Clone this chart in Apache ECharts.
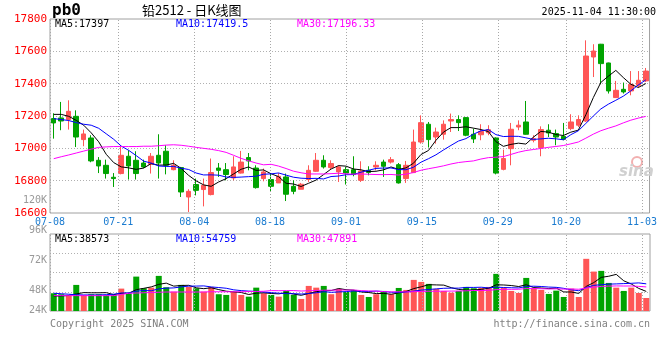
<!DOCTYPE html>
<html><head><meta charset="utf-8">
<script src="https://cdn.jsdelivr.net/npm/echarts@6/dist/echarts.min.js"></script>
<style>html,body{margin:0;padding:0;background:#fff}#c{width:660px;height:360px}</style>
</head><body><div id="c"></div>
<script>
const dates = ['07-08','07-09','07-10','07-11','07-14','07-15','07-16','07-17','07-18','07-21','07-22','07-23','07-24','07-25','07-28','07-29','07-30','07-31','08-01','08-04','08-05','08-06','08-07','08-08','08-11','08-12','08-13','08-14','08-15','08-18','08-19','08-20','08-21','08-22','08-25','08-26','08-27','08-28','08-29','09-01','09-02','09-03','09-04','09-05','09-08','09-09','09-10','09-11','09-12','09-15','09-16','09-17','09-18','09-19','09-22','09-23','09-24','09-25','09-26','09-29','09-30','10-09','10-10','10-13','10-14','10-15','10-16','10-17','10-20','10-21','10-22','10-23','10-24','10-27','10-28','10-29','10-30','10-31','11-03','11-04'];
const opens = [17184,17188,17178,17198,17054,17064,16926,16895,16821,16844,16951,16926,16909,16901,16957,16982,16868,16881,16699,16776,16745,16714,16878,16868,16817,16847,16943,16878,16813,16807,16786,16823,16765,16747,16807,16858,16926,16881,16854,16868,16868,16802,16864,16885,16915,16915,16899,16813,16850,17039,17149,17070,17087,17169,17178,17190,17087,17084,17096,17064,16870,16998,17132,17163,17050,17005,17112,17091,17074,17122,17143,17169,17565,17644,17528,17314,17365,17355,17390,17417];
const closes = [17157,17169,17229,17070,17089,16922,16891,16844,16813,16957,16891,16844,16885,16951,16909,16895,16895,16730,16734,16740,16771,16850,16864,16838,16885,16915,16922,16757,16854,16765,16827,16716,16734,16778,16864,16926,16885,16906,16885,16847,16838,16860,16851,16895,16889,16930,16786,16895,17039,17159,17054,17101,17149,17178,17159,17081,17058,17105,17115,16847,16937,17118,17143,17087,17060,17116,17095,17070,17056,17163,17178,17571,17602,17524,17355,17359,17349,17396,17421,17478];
const lows = [17060,17112,17116,17008,17013,16914,16847,16813,16761,16839,16807,16807,16877,16844,16813,16839,16864,16699,16606,16709,16641,16709,16823,16802,16802,16844,16864,16751,16796,16736,16786,16674,16716,16747,16792,16854,16875,16869,16792,16776,16827,16792,16833,16864,16823,16906,16782,16786,16847,17029,17005,17029,17054,17101,17107,17075,17033,17050,17081,16839,16864,16895,17112,17085,17037,16951,17070,17019,17050,17112,17132,17163,17441,17396,17339,17312,17339,17328,17376,17410];
const highs = [17217,17287,17297,17235,17116,17081,16946,16930,16847,17008,16988,16982,16930,16971,17087,17019,16926,16885,16747,16813,16813,16937,16909,16909,16951,16984,16971,16895,16875,16847,16847,16844,16802,16786,16895,16971,16957,16926,16895,16885,16951,16920,16889,16920,16930,16946,16909,16922,17116,17204,17163,17128,17173,17215,17204,17192,17122,17149,17143,17068,16992,17157,17173,17293,17081,17136,17149,17116,17157,17211,17204,17668,17644,17646,17530,17417,17407,17478,17478,17497];
const volumes = [35000,33100,30300,51500,31700,33100,33100,31700,31700,44200,35000,67900,44900,46100,69300,46900,38200,51500,47500,44900,38200,47500,33100,31700,38200,31700,28300,46100,35000,31700,28300,39600,31700,23800,49500,46100,49500,33100,43600,37600,41600,31700,27700,33100,39600,33100,45500,41600,61400,57400,53500,43600,39600,36200,39600,47500,44900,45500,47500,73300,45500,39600,35600,65300,44900,41600,33700,40200,27700,44200,27700,103000,77800,79200,55400,46100,39600,46100,35600,25700];
const ma5Lead = [17210,17210,17198,17173];
const ma10Lead = [17184,17178,17172,17159,17149,17143,17124,17090,17056];
const ma30Lead = [16936,16948,16959,16971,16983,16995,17006,17009,17011,17011,17011,17011,17013,17013,17016,17020,17022,17019,17013,17006,17000,16994,16986,16975,16957,16938,16923,16909,16898];
const vma5Lead = [29700,29700,30700,33700];
const vma10Lead = [35000,34100,33100,32100,31700,31700,31700,32300,33100];
const vma30Lead = [30300,30300,30300,30300,30300,30300,30300,30300,30300,32700,35000,35500,36000,36500,37000,37500,37500,37500,37500,37500,37500,38000,38000,38000,38000,38000,38500,38500,39000];
const labelDates = ['07-08','07-21','08-04','08-18','09-01','09-15','09-29','10-20','11-03'];
const priceLegend = ['MA5:17397','MA10:17419.5','MA30:17196.33'];
const volLegend = ['MA5:38573','MA10:54759','MA30:47891'];
const volTickVals = [120000,96000,72000,48000,24000];
const volTickText = ['120K','96K','72K','48K','24K'];

const RED = '#ff5656', GREEN = '#00a300';
const MONO = '"DejaVu Sans Mono", monospace';
function ma(arr, n, lead) {
  return arr.map((v, i) => {
    if (i < n - 1) return lead[i];
    let s = 0; for (let k = i - n + 1; k <= i; k++) s += arr[k];
    return +(s / n).toFixed(2);
  });
}
const isLabel = (i) => labelDates.indexOf(dates[i]) >= 0;
const chart = echarts.init(document.getElementById('c'), null, {renderer: 'canvas'});
const gridLine = {show: true, lineStyle: {color: '#b0b0b0', type: [1, 2], width: 1}};
const xCommon = {
  type: 'category', data: dates, position: 'bottom',
  axisLine: {show: false}, axisTick: {show: false}, splitLine: {show: false}
};
const lineS = (name, data, color, xi) => ({
  name, type: 'line', data, xAxisIndex: xi, yAxisIndex: xi, symbol: 'none', silent: true,
  lineStyle: {color, width: 1}, z: 5
});
// vertical dotted grid lines at the labelled dates, drawn as markLines on the evenly spaced date axes
const vGrid = (xi, yi) => ({
  type: 'line', xAxisIndex: xi, yAxisIndex: yi, data: [], silent: true, z: 1,
  markLine: {silent: true, symbol: ['none', 'none'], animation: false, label: {show: false},
    lineStyle: {color: '#a8a8a8', type: [1, 2], width: 1},
    emphasis: {disabled: true},
    data: labelDates.map(d => ({xAxis: d}))}
});
const legendCol = ['#000000', '#0000ff', '#ff00ff'];
const legendX = [55, 176, 297];
const graphic = [
  {type: 'text', x: 52, y: 11, style: {text: 'pb0', font: 'bold 16px ' + MONO, fill: '#000', verticalAlign: 'middle'}},
  {type: 'text', x: 142, y: 10, style: {text: '铅2512 - 日K线图', font: '13px "Noto Sans CJK SC"', fill: '#000', verticalAlign: 'middle'}},
  {type: 'text', x: 656, y: 12, style: {text: '2025-11-04 11:30:00', font: '10px ' + MONO, fill: '#000', align: 'right', verticalAlign: 'middle'}},
  {type: 'text', x: 50, y: 324, style: {text: 'Copyright 2025 SINA.COM', font: '10px ' + MONO, fill: '#808080', verticalAlign: 'middle'}},
  {type: 'text', x: 650, y: 324, style: {text: 'http://finance.sina.com.cn', font: '10px ' + MONO, fill: '#808080', align: 'right', verticalAlign: 'middle'}},
  {type: 'circle', shape: {cx: 637, cy: 162, r: 5}, style: {fill: 'none', stroke: '#f2b0b0', lineWidth: 2}, z: 1},
  {type: 'text', x: 619, y: 172, style: {text: 'sina', font: 'italic bold 15px "DejaVu Sans"', fill: '#d0d0d0', verticalAlign: 'middle'}, z: 1}
];
priceLegend.forEach((t, i) => graphic.push({type: 'text', x: legendX[i], y: 24, style: {text: t, font: '10px ' + MONO, fill: legendCol[i], verticalAlign: 'middle'}, z: 10}));
volLegend.forEach((t, i) => graphic.push({type: 'text', x: legendX[i], y: 239, style: {text: t, font: '10px ' + MONO, fill: legendCol[i], verticalAlign: 'middle'}, z: 10}));
volTickVals.forEach((v, i) => {
  const y = Math.min(310.3, 290.7 - (v - 48000) / 24000 * 30);
  graphic.push({type: 'text', x: 47, y, style: {text: volTickText[i], font: '10px ' + MONO, fill: '#999999', align: 'right', verticalAlign: 'middle'}});
});

chart.setOption({
  animation: false,
  backgroundColor: '#ffffff',
  grid: [
    {left: 50, right: 10, top: 19, height: 194, show: true, borderColor: '#a0a0a0', borderWidth: 1},
    {left: 50, right: 10, top: 234, height: 77, show: true, borderColor: '#a0a0a0', borderWidth: 1}
  ],
  xAxis: [
    Object.assign({gridIndex: 0, boundaryGap: true, axisLabel: {show: false}}, xCommon),
    Object.assign({gridIndex: 1, boundaryGap: true, axisLabel: {show: false}}, xCommon),
    // date axes for labels / vertical grid (sina spaces these evenly from first to last date)
    Object.assign({gridIndex: 0, boundaryGap: false, axisLabel: {interval: isLabel, color: '#1a7bd0', fontFamily: MONO, fontSize: 10, margin: 4}}, xCommon),
    Object.assign({gridIndex: 1, boundaryGap: false, axisLabel: {show: false}}, xCommon)
  ],
  yAxis: [
    {gridIndex: 0, type: 'value', min: 16600, max: 17800, interval: 200,
     axisLine: {show: false}, axisTick: {show: false},
     axisLabel: {color: '#ff0000', fontFamily: MONO, fontSize: 11, margin: 3, padding: [0, 0, 4, 0], formatter: v => String(v)},
     splitLine: Object.assign({showMinLine: false, showMaxLine: false}, gridLine)},
    {gridIndex: 1, type: 'value', min: 0, max: 152000, interval: 38000,
     axisLine: {show: false}, axisTick: {show: false}, axisLabel: {show: false},
     splitLine: Object.assign({showMinLine: false, showMaxLine: false}, gridLine)}
  ],
  series: [
    vGrid(2, 0), vGrid(3, 1),
    {type: 'candlestick', xAxisIndex: 0, yAxisIndex: 0, barWidth: 5, z: 3,
     data: dates.map((d, i) => [opens[i], closes[i], lows[i], highs[i]]),
     itemStyle: {color: RED, color0: GREEN, borderColor: RED, borderColor0: GREEN, borderWidth: 1}},
    lineS('MA5', ma(closes, 5, ma5Lead), '#000000', 0),
    lineS('MA10', ma(closes, 10, ma10Lead), '#0000ff', 0),
    lineS('MA30', ma(closes, 30, ma30Lead), '#ff00ff', 0),
    {type: 'bar', xAxisIndex: 1, yAxisIndex: 1, barWidth: 6, z: 3,
     data: volumes.map((v, i) => ({value: v, itemStyle: {color: closes[i] >= opens[i] ? RED : GREEN}}))},
    lineS('VMA5', ma(volumes, 5, vma5Lead), '#000000', 1),
    lineS('VMA10', ma(volumes, 10, vma10Lead), '#0000ff', 1),
    lineS('VMA30', ma(volumes, 30, vma30Lead), '#ff00ff', 1)
  ],
  graphic
});
</script></body></html>
